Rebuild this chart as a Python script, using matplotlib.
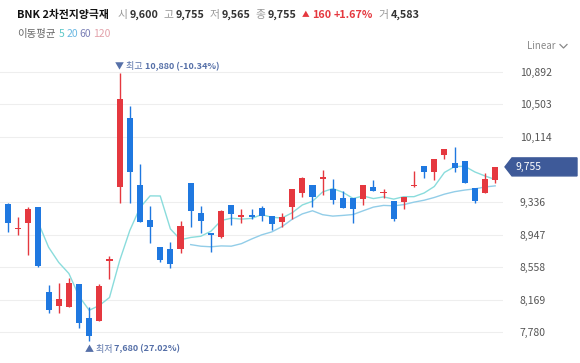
import numpy as np
import pandas as pd
import matplotlib
matplotlib.use("Agg")
import matplotlib.pyplot as plt
from matplotlib.patches import Polygon

plt.rcParams['font.family'] = ['Noto Sans CJK KR', 'DejaVu Sans']

# 일봉 데이터 (첫 봉은 화면 밖, 이동평균 계산용)
opens  = [9495, 9312, 9015, 9089, 9280, 8265, 8094, 8079, 8354, 7948, 7919,
          8632, 9512, 10343, 9539, 9121, 8795, 8771, 8771, 9560, 9201,
          8970, 8915, 9300, 9160, 9181, 9261, 9169, 9097, 9280, 9440,
          9539, 9610, 9491, 9380, 9380, 9368, 9519, 9440, 9352, 9340,
          9527, 9770, 9698, 9897, 9805, 9826, 9500, 9447, 9600]
highs  = [9495, 9320, 9161, 9280, 9280, 8345, 8373, 8425, 8354, 8086, 8354,
          8691, 10880, 10482, 9786, 9292, 8795, 8862, 9113, 9560, 9292,
          8970, 9240, 9300, 9249, 9249, 9288, 9169, 9208, 9488, 9638,
          9539, 9718, 9607, 9471, 9380, 9539, 9599, 9488, 9352, 9399,
          9706, 9770, 9846, 9969, 9996, 9826, 9500, 9686, 9755]
lows   = [9495, 8982, 8942, 8703, 8557, 8007, 8014, 8079, 7828, 7680, 7919,
          8413, 9321, 9321, 9094, 8843, 8623, 8545, 8724, 9034, 8962,
          8743, 8905, 9062, 9089, 9130, 9113, 9002, 9034, 9130, 9399,
          9273, 9420, 9312, 9261, 9082, 9300, 9471, 9380, 9113, 9249,
          9515, 9626, 9599, 9846, 9698, 9560, 9328, 9447, 9565]
closes = [9495, 9082, 9025, 9253, 8572, 8047, 8174, 8365, 7895, 7736, 8333,
          8650, 10562, 9698, 9094, 9041, 8644, 8596, 9053, 9229, 9113,
          8946, 9232, 9193, 9175, 9154, 9173, 9070, 9154, 9488, 9619,
          9392, 9625, 9360, 9261, 9253, 9539, 9471, 9459, 9130, 9399,
          9539, 9691, 9846, 9969, 9746, 9560, 9352, 9607, 9755]

y_ticks = [7780, 8169, 8558, 8947, 9336, 10114, 10503, 10892]
ma_periods = [5, 20, 60, 120]
ma_colors = ["#5cc8c8", "#6ab8e2", "#7a7fb5", "#e3a2aa"]

name = "BNK 2차전지양극재"
last = {"시": "9,600", "고": "9,755", "저": "9,565", "종": "9,755"}
change = "160"
change_pct = "+1.67%"
volume = "4,583"

RED = "#e5383f"
BLUE = "#1f78e0"
W, H = 580, 363

fig = plt.figure(figsize=(W / 100, H / 100), dpi=100)
ax = fig.add_axes([0, 1 - 350 / H, 503 / W, 295 / H])
renderer = fig.canvas.get_renderer()

n = len(closes)
idx = np.arange(n)
o = np.array(opens); c = np.array(closes)
hi = np.array(highs); lo = np.array(lows)

# 이동평균선
cs = pd.Series(closes, dtype=float)
ma5 = cs.rolling(5).mean()
ma20 = cs.rolling(20).mean()
ax.plot(idx, ma5, color="#8adcdc", lw=1.0, zorder=2)
ax.plot(idx, ma20, color="#92cde8", lw=1.0, zorder=2)

# 캔들
for j in range(1, n):
    col = RED if c[j] >= o[j] else BLUE
    ax.vlines(j, lo[j], hi[j], color=col, lw=1.0, zorder=3)
    body = max(abs(c[j] - o[j]), 22)
    bottom = min(o[j], c[j])
    if abs(c[j] - o[j]) < 22:
        bottom = (o[j] + c[j]) / 2 - 11
    ax.bar(j, body, bottom=bottom, width=0.6, color=col, lw=0, zorder=4)

ax.set_xlim(0.212, 49.77)
ax.set_ylim(7569, 11091)
for s in ax.spines.values():
    s.set_visible(False)
ax.set_xticks([])
ax.yaxis.tick_right()
ax.set_yticks(y_ticks)
ax.set_yticklabels([f"{t:,}" for t in y_ticks])
ax.tick_params(axis="y", length=0, pad=12, labelsize=7.5, labelcolor="#555555")
ax.grid(axis="y", color="#eeeeee", lw=0.8)
ax.set_axisbelow(True)


# 최고/최저 표시 (라벨은 보통체, 숫자는 굵게)
def mark(x, y, dy, va, label, value):
    t = ax.annotate(label, xy=(x, y), xytext=(0, dy), textcoords="offset points",
                    fontsize=6.5, color="#5670a8", ha="left", va=va,
                    annotation_clip=False)
    w = t.get_window_extent(renderer).width * 72 / fig.dpi
    ax.annotate(value, xy=(x, y), xytext=(w + 1.5, dy), textcoords="offset points",
                fontsize=6.5, color="#5670a8", fontweight="bold", ha="left", va=va,
                annotation_clip=False)


j_hi = int(np.argmax(hi)); j_lo = int(np.argmin(lo))
cur = closes[-1]
mark(j_hi - 0.45, hi[j_hi], 4.5, "center", "▼ 최고",
     f"{hi[j_hi]:,} ({(cur / hi[j_hi] - 1) * 100:.2f}%)")
mark(j_lo - 0.45, lo[j_lo], -6, "center", "▲ 최저",
     f"{lo[j_lo]:,} ({(cur / lo[j_lo] - 1) * 100:.2f}%)")

# 현재가 라벨
trans = ax.get_yaxis_transform()
hh = 9 * (11091 - 7569) / 295
x0, x1, x2 = 505 / 503, 512 / 503, 577 / 503
box = Polygon([(x0, cur), (x1, cur + hh), (x2, cur + hh), (x2, cur - hh), (x1, cur - hh)],
              closed=True, transform=trans, color="#3e5a99", clip_on=False, zorder=5)
ax.add_patch(box)
ax.text(515 / 503, cur, f"{cur:,}", transform=trans, color="white", fontsize=7.5,
        va="center", ha="left", zorder=6)


# 상단 헤더
def draw_run(x_px, y_px, pieces):
    x = x_px
    for text, color, weight, size, gap in pieces:
        t = fig.text(x / W, 1 - y_px / H, text, color=color, fontweight=weight,
                     fontsize=size, va="center", ha="left")
        bb = t.get_window_extent(renderer)
        x = bb.x1 + gap


pieces = [(name, "#111111", "bold", 7.8, 9)]
for k, v in last.items():
    pieces.append((k, "#999999", "normal", 7.8, 2))
    pieces.append((v, "#333333", "bold", 7.8, 5))
pieces.append(("▲", RED, "normal", 5.5, 3))
pieces.append((change, RED, "bold", 7.8, 3))
pieces.append((change_pct, RED, "bold", 7.8, 5))
pieces.append(("거", "#999999", "normal", 7.8, 2))
pieces.append((volume, "#333333", "bold", 7.8, 0))
draw_run(17, 15, pieces)

legend = [("이동평균", "#666666", "normal", 7.5, 3)]
for p, col in zip(ma_periods, ma_colors):
    legend.append((str(p), col, "normal", 7.5, 2))
draw_run(17, 34, legend)

fig.text(527 / W, 1 - 46 / H, "Linear", color="#888888", fontsize=7, va="center", ha="left")
fig.lines.append(plt.Line2D([560 / W, 563.5 / W, 567 / W],
                            [1 - 44.5 / H, 1 - 48 / H, 1 - 44.5 / H],
                            transform=fig.transFigure, color="#888888", lw=0.9))

fig.savefig("out.png", dpi=100, facecolor="white")
